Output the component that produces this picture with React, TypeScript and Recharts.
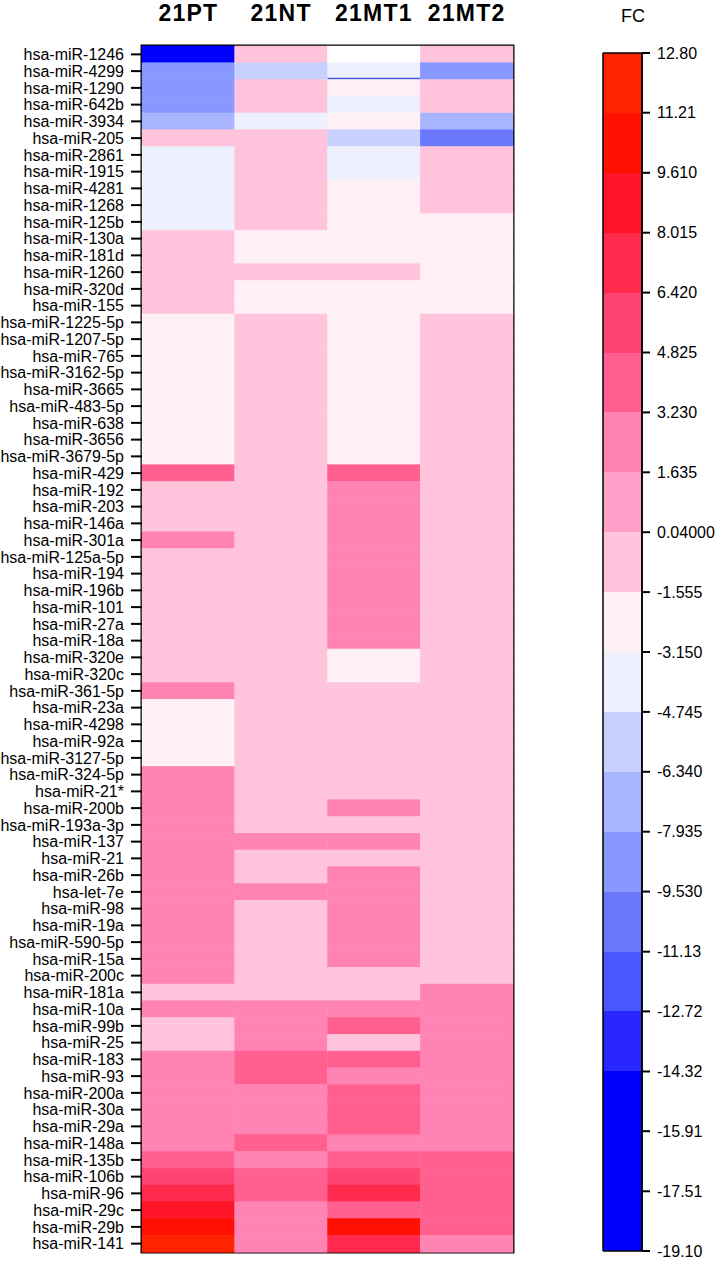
import React from 'react';
import { BarChart, Bar, Cell, XAxis, YAxis, ReferenceArea } from 'recharts';

const samples = ['21PT', '21NT', '21MT1', '21MT2'];

const mirnas = [
  'hsa-miR-1246', 'hsa-miR-4299', 'hsa-miR-1290', 'hsa-miR-642b', 'hsa-miR-3934', 'hsa-miR-205',
  'hsa-miR-2861', 'hsa-miR-1915', 'hsa-miR-4281', 'hsa-miR-1268', 'hsa-miR-125b', 'hsa-miR-130a',
  'hsa-miR-181d', 'hsa-miR-1260', 'hsa-miR-320d', 'hsa-miR-155', 'hsa-miR-1225-5p', 'hsa-miR-1207-5p',
  'hsa-miR-765', 'hsa-miR-3162-5p', 'hsa-miR-3665', 'hsa-miR-483-5p', 'hsa-miR-638', 'hsa-miR-3656',
  'hsa-miR-3679-5p', 'hsa-miR-429', 'hsa-miR-192', 'hsa-miR-203', 'hsa-miR-146a', 'hsa-miR-301a',
  'hsa-miR-125a-5p', 'hsa-miR-194', 'hsa-miR-196b', 'hsa-miR-101', 'hsa-miR-27a', 'hsa-miR-18a',
  'hsa-miR-320e', 'hsa-miR-320c', 'hsa-miR-361-5p', 'hsa-miR-23a', 'hsa-miR-4298', 'hsa-miR-92a',
  'hsa-miR-3127-5p', 'hsa-miR-324-5p', 'hsa-miR-21*', 'hsa-miR-200b', 'hsa-miR-193a-3p', 'hsa-miR-137',
  'hsa-miR-21', 'hsa-miR-26b', 'hsa-let-7e', 'hsa-miR-98', 'hsa-miR-19a', 'hsa-miR-590-5p',
  'hsa-miR-15a', 'hsa-miR-200c', 'hsa-miR-181a', 'hsa-miR-10a', 'hsa-miR-99b', 'hsa-miR-25',
  'hsa-miR-183', 'hsa-miR-93', 'hsa-miR-200a', 'hsa-miR-30a', 'hsa-miR-29a', 'hsa-miR-148a',
  'hsa-miR-135b', 'hsa-miR-106b', 'hsa-miR-96', 'hsa-miR-29c', 'hsa-miR-29b', 'hsa-miR-141',
];

// fold change per sample, same order as mirnas (null = no value, drawn white)
const fc21PT = [
  -16, -8.7, -8.7, -8.7, -7.1, -0.8, -3.9, -3.9, -3.9, -3.9, -3.9, -0.8,
  -0.8, -0.8, -0.8, -0.8, -2.3, -2.3, -2.3, -2.3, -2.3, -2.3, -2.3, -2.3,
  -2.3, 4.0, -0.8, -0.8, -0.8, 2.4, -0.8, -0.8, -0.8, -0.8, -0.8, -0.8,
  -0.8, -0.8, 2.4, -2.3, -2.3, -2.3, -2.3, 2.4, 2.4, 2.4, 2.4, 2.4,
  2.4, 2.4, 2.4, 2.4, 2.4, 2.4, 2.4, 2.4, -0.8, 2.4, -0.8, -0.8,
  2.4, 2.4, 2.4, 2.4, 2.4, 2.4, 4.0, 5.6, 7.2, 8.8, 10.4, 12.0,
];
const fc21NT = [
  -0.8, -5.5, -0.8, -0.8, -3.9, -0.8, -0.8, -0.8, -0.8, -0.8, -0.8, -2.3,
  -2.3, -0.8, -2.3, -2.3, -0.8, -0.8, -0.8, -0.8, -0.8, -0.8, -0.8, -0.8,
  -0.8, -0.8, -0.8, -0.8, -0.8, -0.8, -0.8, -0.8, -0.8, -0.8, -0.8, -0.8,
  -0.8, -0.8, -0.8, -0.8, -0.8, -0.8, -0.8, -0.8, -0.8, -0.8, -0.8, 2.4,
  -0.8, -0.8, 2.4, -0.8, -0.8, -0.8, -0.8, -0.8, -0.8, 2.4, 2.4, 2.4,
  4.0, 4.0, 2.4, 2.4, 2.4, 4.0, 2.4, 4.0, 4.0, 2.4, 2.4, 2.4,
];
const fc21MT1 = [
  null, -3.9, -2.3, -3.9, -2.3, -5.5, -3.9, -3.9, -2.3, -2.3, -2.3, -2.3,
  -2.3, -0.8, -2.3, -2.3, -2.3, -2.3, -2.3, -2.3, -2.3, -2.3, -2.3, -2.3,
  -2.3, 4.0, 2.4, 2.4, 2.4, 2.4, 2.4, 2.4, 2.4, 2.4, 2.4, 2.4,
  -2.3, -2.3, -0.8, -0.8, -0.8, -0.8, -0.8, -0.8, -0.8, 2.4, -0.8, 2.4,
  -0.8, 2.4, 2.4, 2.4, 2.4, 2.4, 2.4, -0.8, -0.8, 2.4, 4.0, -0.8,
  4.0, 2.4, 4.0, 4.0, 4.0, 2.4, 4.0, 5.6, 7.2, 4.0, 10.4, 7.2,
];
const fc21MT2 = [
  -0.8, -8.7, -0.8, -0.8, -7.1, -10.3, -0.8, -0.8, -0.8, -0.8, -2.3, -2.3,
  -2.3, -2.3, -2.3, -2.3, -0.8, -0.8, -0.8, -0.8, -0.8, -0.8, -0.8, -0.8,
  -0.8, -0.8, -0.8, -0.8, -0.8, -0.8, -0.8, -0.8, -0.8, -0.8, -0.8, -0.8,
  -0.8, -0.8, -0.8, -0.8, -0.8, -0.8, -0.8, -0.8, -0.8, -0.8, -0.8, -0.8,
  -0.8, -0.8, -0.8, -0.8, -0.8, -0.8, -0.8, -0.8, 2.4, 2.4, 2.4, 2.4,
  2.4, 2.4, 2.4, 2.4, 2.4, 2.4, 4.0, 4.0, 4.0, 4.0, 4.0, 2.4,
];

// colour scale, top to bottom
const scaleLabels = [
  '12.80', '11.21', '9.610', '8.015', '6.420', '4.825', '3.230', '1.635', '0.04000', '-1.555', '-3.150',
  '-4.745', '-6.340', '-7.935', '-9.530', '-11.13', '-12.72', '-14.32', '-15.91', '-17.51', '-19.10',
];
const scaleColors = [
  '#ff2400', '#ff1000', '#ff1428', '#ff2a4c', '#ff4474', '#ff6090', '#ff84b4', '#ffa0c8', '#ffc4dc', '#fff0f6',
  '#eef0fe', '#c8d0fe', '#a8b4fe', '#8898fe', '#6a78fe', '#4858fe', '#2828fe', '#0000ff', '#0000ff', '#0000ff',
];

const underlinedCells = [{ mirna: 'hsa-miR-4299', sample: '21MT1' }];

const scaleTicks = scaleLabels.map(Number);
const scaleMin = scaleTicks[scaleTicks.length - 1];
const scaleMax = scaleTicks[0];
const columns = [fc21PT, fc21NT, fc21MT1, fc21MT2];

const rows = mirnas.map((name, i) => ({ name, s0: 1, s1: 1, s2: 1, s3: 1, cells: columns.map((c) => c[i]) }));

const bands = scaleColors.map((color, i) => ({ hi: scaleTicks[i], lo: scaleTicks[i + 1], color }));
const scaleData = [{ name: 'FC', span: [scaleMin, scaleMax] }];

function fcColor(v: number | null) {
  if (v === null) return '#ffffff';
  const band = bands.find((b) => v <= b.hi && v >= b.lo);
  if (band) return band.color;
  return v > scaleMax ? scaleColors[0] : scaleColors[scaleColors.length - 1];
}

const FONT = '"Liberation Sans", Arial, Helvetica, sans-serif';

const SampleTick = ({ x, y, payload }: any) => (
  <text
    x={x}
    y={y - 17}
    textAnchor="middle"
    fontSize={23}
    fontWeight="bold"
    letterSpacing={1.2}
    fill="#000"
    fontFamily={FONT}
  >
    {samples[Math.floor(payload.value)]}
  </text>
);

const renderCell = (sample: string) => (props: any) => {
  const { x, y, width, height, fill, payload } = props;
  const marked = underlinedCells.some((u) => u.sample === sample && u.mirna === payload?.name);
  return (
    <g>
      <rect x={x} y={y} width={width} height={height} fill={fill} stroke={fill} strokeWidth={0.5} />
      {marked && (
        <line x1={x} x2={x + width} y1={y + height - 1} y2={y + height - 1} stroke="#4656e6" strokeWidth={2} />
      )}
    </g>
  );
};

export default function App() {
  return (
    <div style={{ position: 'absolute', left: 0, top: 0, width: 718, height: 1268, background: '#fff', fontFamily: FONT }}>
      <div style={{ position: 'absolute', left: 0, top: 0 }}>
        <BarChart
          width={520}
          height={1268}
          data={rows}
          layout="vertical"
          barCategoryGap={0}
          barGap={0}
          margin={{ top: 0, right: 7, bottom: 16, left: 0 }}
        >
          <XAxis
            type="number"
            orientation="top"
            domain={[0, 4]}
            ticks={[0.5, 1.5, 2.5, 3.5]}
            height={46}
            axisLine={false}
            tickLine={false}
            tick={<SampleTick />}
          />
          <YAxis
            type="category"
            dataKey="name"
            width={142}
            interval={0}
            axisLine={false}
            tickSize={11}
            tickMargin={7}
            tickLine={{ stroke: '#000', strokeWidth: 2 }}
            tick={{ fontSize: 16, fill: '#000' }}
          />
          {samples.map((s, c) => (
            <Bar key={s} dataKey={`s${c}`} stackId="hm" isAnimationActive={false} shape={renderCell(s)}>
              {rows.map((r) => (
                <Cell key={r.name} fill={fcColor(r.cells[c])} />
              ))}
            </Bar>
          ))}
          <ReferenceArea
            x1={0}
            x2={4}
            y1={mirnas[0]}
            y2={mirnas[mirnas.length - 1]}
            fill="none"
            stroke="#000"
            strokeWidth={3}
          />
        </BarChart>
      </div>

      <div style={{ position: 'absolute', left: 603, top: 7, width: 60, textAlign: 'center', fontSize: 18, lineHeight: '18px' }}>
        FC
      </div>

      <div style={{ position: 'absolute', left: 560, top: 0 }}>
        <BarChart
          width={158}
          height={1268}
          data={scaleData}
          barCategoryGap={0}
          margin={{ top: 53, right: 0, bottom: 17, left: 43 }}
        >
          <XAxis type="category" dataKey="name" hide />
          <YAxis
            type="number"
            orientation="right"
            domain={[scaleMin, scaleMax]}
            ticks={scaleTicks}
            interval={0}
            width={76}
            tickFormatter={(v: number) => scaleLabels[scaleTicks.indexOf(v)] ?? String(v)}
            axisLine={{ stroke: '#000', strokeWidth: 1.5 }}
            tickLine={{ stroke: '#000', strokeWidth: 2 }}
            tickSize={8}
            tickMargin={7}
            tick={{ fontSize: 16, fill: '#000' }}
          />
          <Bar dataKey="span" fill="none" stroke="#000" strokeWidth={1} isAnimationActive={false} />
          {bands.map((b, i) => (
            <ReferenceArea
              key={i}
              y1={b.lo}
              y2={b.hi}
              fill={b.color}
              fillOpacity={1}
              stroke="none"
              shapeRendering="crispEdges"
            />
          ))}
          <ReferenceArea y1={scaleMin} y2={scaleMax} fill="none" stroke="#000" strokeWidth={1} />
        </BarChart>
      </div>
    </div>
  );
}
